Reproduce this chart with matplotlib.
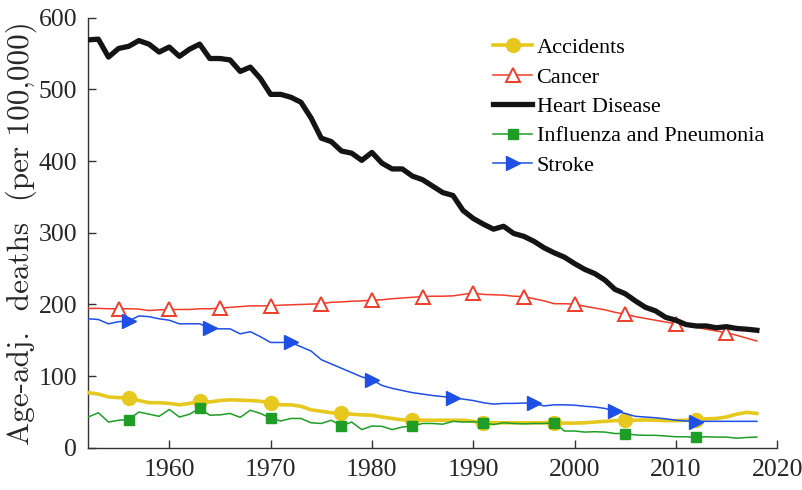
import matplotlib
matplotlib.use("Agg")
import matplotlib.pyplot as plt


years = list(range(1952, 2019))

heart = [569, 570, 545, 557, 560, 568, 563, 552, 559, 546,
         556, 563, 543, 543, 541, 525, 531, 515, 493, 493,
         489, 482, 460, 432, 427, 414, 411, 401, 412, 397,
         389, 389, 379, 374, 365, 356, 352, 331, 320, 312,
         305, 309, 299, 295, 288, 279, 272, 266, 257, 249,
         243, 234, 221, 215, 205, 196, 191, 182, 178, 172,
         170, 170, 167.5, 169, 166.5, 165.5, 164]

cancer = [194.5, 194.5, 194, 194, 194, 193.5, 191.5, 192.5, 193, 193,
          193, 194, 194, 195, 196, 197, 198, 198, 198, 199,
          199.5, 200, 200.5, 201, 203, 203.5, 204.5, 205, 206, 206.5,
          208, 209, 210, 211, 211.5, 211.5, 212, 214, 216, 214,
          213.5, 213, 211.5, 211, 208, 205, 201, 201, 200.5, 197.5,
          195, 192.5, 189, 186.5, 183, 180.5, 178, 175.5, 173, 170.5,
          168, 165.5, 163, 160.5, 157, 153, 149]

accidents = [77, 75, 71, 70, 70, 66, 63, 63, 62, 60,
             62, 65, 64, 66, 67, 66.5, 66, 65, 63, 60,
             60, 58, 53, 51, 49, 48.5, 47, 46, 45.5, 43,
             41, 39, 39.5, 38.5, 38.5, 38.5, 38.5, 38.5, 37, 35,
             35, 35, 35, 35, 35, 35, 35, 34.5, 34.5, 35,
             36, 37, 38, 38.5, 38.5, 39, 38.5, 38, 38, 38.5,
             39.5, 40.5, 41, 43, 47, 49.5, 48]

influenza = [43, 49, 36, 38.5, 39.5, 50, 47, 44, 53.5, 43,
             47, 55, 45.5, 46, 48, 42.5, 52.5, 48, 41.5, 37.5,
             41, 41, 35, 34, 38.5, 30.5, 36, 25.5, 30.5, 30,
             25.5, 29, 30.5, 34, 34, 33, 37, 36, 36.5, 35,
             32.5, 35, 34, 33.5, 34, 34, 35, 23.5, 23.5, 22,
             22.5, 22, 20, 20, 18, 17.5, 17.5, 16.5, 15.5, 15.5,
             14.5, 15.5, 15, 15, 13.5, 14.5, 15]

stroke = [180, 179, 173, 176, 177, 184, 183, 180, 178, 173,
          173, 173, 167, 166, 166, 159, 162, 155, 147, 147,
          147, 141, 135, 123, 117, 111, 105, 99, 95, 87,
          83, 80, 77, 75, 73, 71.5, 70, 68, 66, 63,
          61, 62, 62, 62.5, 62, 58.5, 60, 60, 59.5, 58,
          57, 55, 51.5, 48, 44, 43, 42, 40.5, 38.5, 37.5,
          36.5, 37, 37, 37, 37, 37, 37]

labels = ["Accidents", "Cancer", "Heart Disease",
          "Influenza and Pneumonia", "Stroke"]

ytick_vals = [0, 100, 200, 300, 400, 500, 600]
xtick_vals = [1960, 1970, 1980, 1990, 2000, 2010, 2020]


plt.rcParams["font.family"] = ["Liberation Serif", "DejaVu Serif"]

fig = plt.figure(figsize=(8.02, 4.9), dpi=100)
ax = fig.add_axes([0.11, 0.086, 0.859, 0.878])

ax.plot(years, accidents, color="#E6C81E", lw=2.6, marker="o",
        markersize=10, markevery=(4, 7), label=labels[0], zorder=3)

ax.plot(years, cancer, color="#F03C2A", lw=1.1, marker="^",
        markersize=10, markerfacecolor="white", markeredgewidth=1.4,
        markevery=(3, 5), label=labels[1], zorder=3)

ax.plot(years, heart, color="#141414", lw=3.8,
        label=labels[2], zorder=4)

ax.plot(years, influenza, color="#1E9E26", lw=1.1, marker="s",
        markersize=7, markevery=(4, 7), label=labels[3], zorder=3)

ax.plot(years, stroke, color="#1F4FE6", lw=1.1, marker=">",
        markersize=10, markevery=(4, 8), label=labels[4], zorder=3)

ax.set_xlim(1952, 2020)
ax.set_ylim(0, 600)
ax.set_xticks(xtick_vals)
ax.set_yticks(ytick_vals)

ax.spines["top"].set_visible(False)
ax.spines["right"].set_visible(False)
for side in ["left", "bottom"]:
    ax.spines[side].set_color("#333333")
    ax.spines[side].set_linewidth(1.0)

ax.tick_params(direction="in", length=6, width=1.0, color="#333333",
               labelsize=18.5, labelcolor="#262626", pad=8)

# the axis title in the original is set in Computer Modern
ax.set_ylabel("Age-adj.  deaths  (per 100,000)", fontsize=22.4,
              fontfamily="cmr10", color="#262626", labelpad=1)

ax.legend(loc="upper left", bbox_to_anchor=(0.562, 0.995), frameon=False,
          fontsize=16, handlelength=1.75, handletextpad=0.2,
          labelspacing=0.4, borderaxespad=0.4)

fig.savefig("out.png", dpi=100)
